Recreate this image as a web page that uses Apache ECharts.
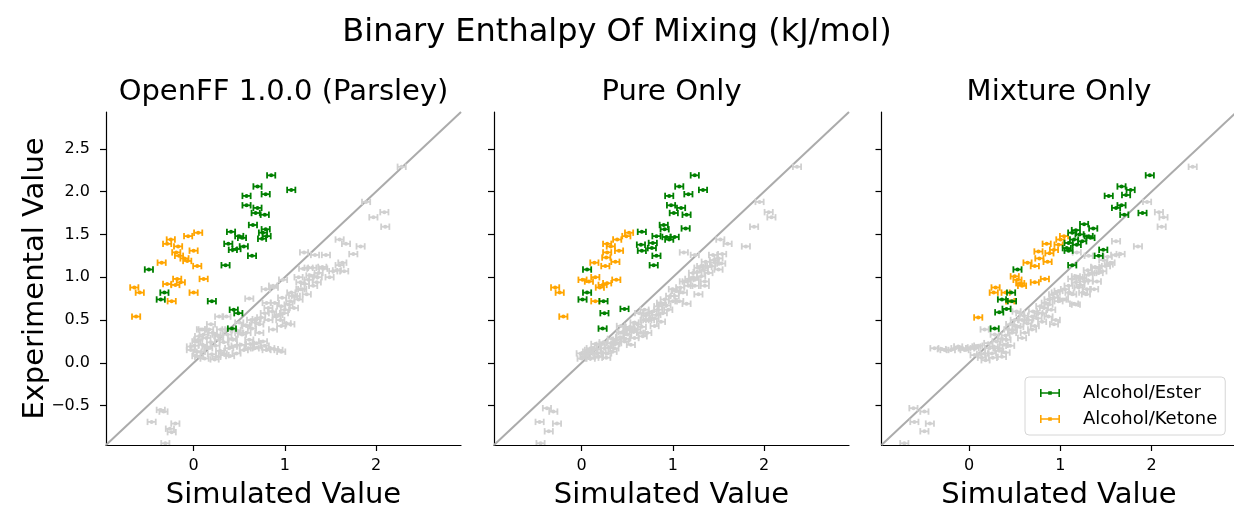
<!DOCTYPE html>
<html>
<head>
<meta charset="utf-8">
<script src="https://cdn.jsdelivr.net/npm/echarts@6/dist/echarts.min.js"></script>
<style>
  html, body { margin: 0; padding: 0; background: #ffffff; }
  #chart { width: 1234px; height: 508px; }
</style>
</head>
<body>
<div id="chart"></div>
<script>
// Binary enthalpy of mixing: simulated vs experimental (kJ/mol), three force fields.
const panelTitles = ['OpenFF 1.0.0 (Parsley)', 'Pure Only', 'Mixture Only'];
const xTicks = [0, 1, 2];
const yTicks = [-0.5, 0, 0.5, 1, 1.5, 2, 2.5];
const axisLimits = [-0.96, 2.93];
const xErr = 0.045; // uncertainty on simulated values

// [simulated, experimental]
const parsleyEster = [
  [0.85, 2.19], [0.70, 2.06], [1.07, 2.02], [0.58, 1.95], [0.79, 1.97], [0.58, 1.84],
  [0.70, 1.81], [0.68, 1.75], [0.78, 1.73], [0.65, 1.61], [0.79, 1.56], [0.76, 1.52],
  [0.75, 1.45], [0.80, 1.48], [0.41, 1.53], [0.50, 1.48], [0.53, 1.46], [0.38, 1.39],
  [0.43, 1.32], [0.55, 1.36], [0.47, 1.33], [0.64, 1.25], [0.35, 1.14], [-0.49, 1.09],
  [-0.32, 0.82], [-0.36, 0.74], [0.20, 0.72], [0.44, 0.62], [0.49, 0.58], [0.42, 0.40]
];
const parsleyKetone = [
  [0.05, 1.52], [-0.06, 1.48], [-0.25, 1.44], [-0.29, 1.39], [-0.17, 1.36], [0.00, 1.31],
  [-0.19, 1.29], [-0.16, 1.25], [-0.10, 1.22], [-0.07, 1.19], [-0.35, 1.17], [0.04, 1.13],
  [0.11, 0.98], [-0.18, 0.98], [-0.14, 0.94], [-0.20, 0.91], [-0.29, 0.92], [0.00, 0.82],
  [-0.65, 0.88], [-0.59, 0.82], [-0.24, 0.72], [-0.63, 0.54]
];
const parsleyOther = [
  [2.28, 2.29], [1.89, 1.88], [2.09, 1.76], [1.97, 1.70], [2.10, 1.59], [1.60, 1.44],
  [1.67, 1.39], [1.83, 1.36], [1.75, 1.27], [1.21, 1.29], [1.33, 1.26], [1.45, 1.26],
  [1.30, 1.11], [1.42, 1.10], [1.60, 1.14], [1.57, 1.08], [1.65, 1.07], [1.49, 1.00],
  [1.31, 1.01], [1.35, 0.94], [1.31, 0.90], [0.98, 0.97], [1.17, 0.86], [1.24, 0.80],
  [1.09, 0.78], [1.06, 0.72], [0.89, 0.70], [0.79, 0.86], [0.88, 0.88], [0.61, 0.75],
  [0.99, 0.58], [0.91, 0.54], [1.02, 0.46], [0.96, 0.43], [0.78, 0.58], [0.69, 0.51],
  [0.72, 0.45], [0.36, 0.54], [0.19, 0.45], [0.10, 0.39], [0.06, 0.31], [0.01, 0.20],
  [0.04, 0.13], [0.14, 0.19], [0.25, 0.07], [0.34, 0.09], [0.43, 0.27], [0.50, 0.35],
  [0.60, 0.17], [0.76, 0.25], [0.80, 0.15], [0.93, 0.15], [0.69, 0.23], [0.28, 0.27],
  [0.21, 0.35], [0.36, 0.39], [0.50, 0.47], [0.58, 0.43], [0.63, 0.50], [0.43, 0.19],
  [0.14, 0.29], [-0.03, 0.19], [0.03, 0.25], [0.08, 0.39], [0.17, 0.39], [0.25, 0.33],
  [0.30, 0.39], [0.06, 0.07], [0.23, 0.04], [0.32, 0.11], [0.39, 0.17], [0.47, 0.11],
  [0.52, 0.21], [0.61, 0.27], [0.67, 0.17], [0.84, 0.17], [0.96, 0.13], [0.87, 0.39],
  [0.95, 0.50], [1.06, 0.45], [0.82, 0.64], [0.96, 0.66], [1.15, 0.74], [1.07, 0.82],
  [1.17, 0.94], [1.26, 0.97], [1.37, 1.05], [1.53, 1.07], [1.63, 1.17], [1.26, 1.11],
  [0.28, 0.54], [0.10, 0.21], [0.58, 0.35], [0.72, 0.35], [0.87, 0.90], [0.80, 0.70],
  [-0.03, 0.15], [0.03, 0.08], [0.08, 0.13], [0.12, 0.05], [0.16, 0.17], [0.20, 0.10],
  [0.24, 0.20], [0.29, 0.14], [0.33, 0.24], [0.05, 0.27], [0.11, 0.33], [0.19, 0.24],
  [0.27, 0.31], [0.37, 0.33], [0.42, 0.28], [0.47, 0.38], [0.53, 0.33], [0.57, 0.44],
  [0.64, 0.40], [0.68, 0.47], [0.74, 0.53], [0.82, 0.50], [0.86, 0.60], [0.93, 0.56],
  [1.00, 0.62], [1.04, 0.68], [1.10, 0.64], [0.97, 0.76], [1.12, 0.78], [1.19, 0.86],
  [1.22, 0.92], [1.15, 1.00], [1.28, 1.02], [1.36, 1.00], [1.41, 1.12], [1.20, 1.10],
  [0.62, 0.22], [0.70, 0.18], [0.78, 0.20], [0.88, 0.16], [0.55, 0.15], [0.40, 0.08],
  [0.46, 0.20],
  [-0.36, -0.55], [-0.33, -0.57], [-0.46, -0.69], [-0.20, -0.71], [-0.26, -0.77],
  [-0.24, -0.81], [-0.31, -0.94]
];

const pureEster = [
  [1.24, 2.19], [1.07, 2.06], [1.33, 2.02], [0.96, 1.95], [1.17, 1.97], [0.98, 1.84],
  [1.09, 1.81], [1.01, 1.75], [1.15, 1.73], [0.90, 1.61], [1.14, 1.57], [0.91, 1.56],
  [0.66, 1.53], [0.82, 1.48], [0.93, 1.47], [1.02, 1.47], [0.96, 1.44], [0.65, 1.38],
  [0.78, 1.40], [0.77, 1.34], [0.66, 1.31], [0.82, 1.25], [0.79, 1.14], [0.06, 1.09],
  [0.06, 0.82], [0.01, 0.74], [0.24, 0.72], [0.47, 0.63], [0.25, 0.58], [0.23, 0.40]
];
const pureKetone = [
  [0.52, 1.52], [0.49, 1.48], [0.39, 1.44], [0.28, 1.39], [0.32, 1.36], [0.41, 1.31],
  [0.28, 1.29], [0.27, 1.23], [0.37, 1.18], [0.26, 1.13], [0.14, 1.17], [0.01, 0.97],
  [0.08, 0.95], [0.15, 1.00], [0.23, 0.91], [0.28, 0.93], [0.38, 0.97], [0.20, 0.88],
  [-0.29, 0.88], [-0.24, 0.82], [0.15, 0.72], [-0.20, 0.54]
];
const pureOther = [
  [2.36, 2.29], [1.95, 1.88], [2.05, 1.76], [2.08, 1.70], [1.89, 1.59], [1.52, 1.44],
  [1.60, 1.39], [1.80, 1.36], [1.12, 1.29], [1.24, 1.26], [1.44, 1.26], [1.54, 1.27],
  [1.53, 1.16], [1.50, 1.09], [1.28, 1.11], [1.39, 1.05], [1.24, 0.97], [1.35, 0.90],
  [1.28, 0.80], [1.15, 0.95], [1.04, 0.84], [1.11, 0.82], [1.15, 0.69], [1.00, 0.72],
  [0.87, 0.70], [0.95, 0.62], [0.82, 0.56], [0.72, 0.58], [0.69, 0.50], [0.80, 0.43],
  [0.87, 0.48], [0.58, 0.47], [0.50, 0.39], [0.43, 0.35], [0.54, 0.21], [0.58, 0.29],
  [0.39, 0.27], [0.32, 0.23], [0.25, 0.17], [0.17, 0.11], [0.06, 0.13], [0.03, 0.07],
  [0.14, 0.06], [0.28, 0.11], [0.21, 0.21], [0.36, 0.17], [0.47, 0.25], [0.63, 0.58],
  [0.69, 0.62], [1.00, 0.86], [-0.01, 0.11], [0.10, 0.17], [0.19, 0.07], [0.27, 0.06],
  [0.34, 0.13], [0.39, 0.23], [0.50, 0.33], [0.60, 0.39], [0.65, 0.35], [0.72, 0.50],
  [0.80, 0.52], [0.89, 0.58], [0.91, 0.74], [1.02, 0.78], [1.07, 0.72], [1.17, 0.90],
  [1.22, 1.05], [1.31, 1.01], [1.42, 1.13], [1.46, 1.17], [1.31, 1.13], [1.35, 0.95],
  [1.24, 0.90], [0.84, 0.66], [0.54, 0.39], [0.43, 0.43], [0.72, 0.35], [0.67, 0.31],
  [0.00, 0.05], [0.05, 0.10], [0.10, 0.05], [0.12, 0.12], [0.17, 0.16], [0.22, 0.12],
  [0.24, 0.24], [0.30, 0.18], [0.33, 0.28], [0.37, 0.22], [0.42, 0.30], [0.45, 0.36],
  [0.48, 0.28], [0.53, 0.42], [0.57, 0.36], [0.61, 0.45], [0.66, 0.42], [0.70, 0.55],
  [0.75, 0.50], [0.78, 0.60], [0.84, 0.62], [0.88, 0.68], [0.93, 0.67], [0.97, 0.78],
  [1.03, 0.84], [1.08, 0.88], [1.12, 0.95], [1.18, 0.98], [1.22, 1.00], [1.27, 1.06],
  [1.34, 1.08], [1.38, 1.12], [1.45, 1.20], [1.50, 1.22], [1.36, 1.18], [0.15, 0.22],
  [0.08, 0.15],
  [-0.38, -0.53], [-0.31, -0.57], [-0.46, -0.69], [-0.27, -0.71], [-0.36, -0.80],
  [-0.45, -0.94]
];

const mixtureEster = [
  [1.98, 2.19], [1.67, 2.06], [1.77, 2.02], [1.72, 1.96], [1.53, 1.95], [1.61, 1.81],
  [1.67, 1.84], [1.70, 1.73], [1.90, 1.75], [1.26, 1.62], [1.36, 1.57], [1.17, 1.55],
  [1.13, 1.52], [1.21, 1.50], [1.31, 1.48], [1.15, 1.44], [1.24, 1.42], [1.33, 1.46],
  [1.09, 1.40], [1.07, 1.34], [1.18, 1.38], [1.09, 1.31], [1.47, 1.32], [1.42, 1.25],
  [1.13, 1.14], [0.53, 1.09], [0.46, 0.82], [0.36, 0.74], [0.47, 0.72], [0.41, 0.63],
  [0.33, 0.59], [0.28, 0.40]
];
const mixtureKetone = [
  [1.04, 1.48], [1.00, 1.44], [0.98, 1.38], [0.85, 1.39], [0.76, 1.30], [0.88, 1.28],
  [0.93, 1.32], [0.77, 1.22], [0.86, 1.18], [0.64, 1.17], [0.72, 1.13], [0.50, 1.01],
  [0.53, 0.97], [0.56, 0.93], [0.58, 0.90], [0.72, 0.94], [0.83, 0.98], [0.29, 0.88],
  [0.27, 0.82], [0.40, 0.82], [0.45, 0.72], [0.10, 0.53]
];
const mixtureOther = [
  [2.45, 2.29], [1.95, 1.88], [2.08, 1.76], [2.13, 1.70], [2.11, 1.59], [1.61, 1.42],
  [1.66, 1.27], [1.85, 1.36], [1.18, 1.29], [1.31, 1.25], [1.53, 1.15], [1.46, 1.07],
  [1.35, 1.05], [1.24, 0.99], [1.17, 0.94], [1.31, 0.96], [1.20, 0.88], [1.29, 0.86],
  [1.13, 0.80], [1.28, 0.80], [0.98, 0.84], [0.93, 0.76], [1.04, 0.74], [1.15, 0.69],
  [0.87, 0.68], [0.76, 0.58], [0.87, 0.54], [0.93, 0.45], [0.80, 0.48], [0.65, 0.50],
  [0.72, 0.43], [0.58, 0.50], [0.52, 0.43], [0.61, 0.35], [0.47, 0.35], [0.41, 0.27],
  [0.58, 0.29], [0.52, 0.60], [0.17, 0.39], [0.28, 0.33], [0.21, 0.23], [0.32, 0.17],
  [0.25, 0.11], [0.06, 0.09], [0.14, 0.06], [0.01, 0.17], [-0.07, 0.17], [-0.20, 0.15],
  [-0.38, 0.17], [-0.27, 0.15], [-0.12, 0.19], [0.08, 0.19], [0.36, 0.07], [0.06, 0.17],
  [0.17, 0.11], [0.27, 0.19], [0.38, 0.21], [0.43, 0.39], [0.50, 0.50], [0.69, 0.54],
  [0.80, 0.58], [0.95, 0.50], [1.02, 0.74], [1.09, 0.90], [1.17, 1.01], [1.39, 1.11],
  [1.50, 1.13], [1.55, 1.17], [1.31, 1.03], [1.22, 0.91], [1.37, 0.86], [1.17, 0.68],
  [0.95, 0.82], [0.69, 0.39], [0.87, 0.74], [0.82, 0.64], [0.56, 0.58],
  [-0.30, 0.16], [-0.15, 0.17], [-0.05, 0.15], [0.03, 0.18], [0.10, 0.20], [0.13, 0.10],
  [0.18, 0.03], [0.22, 0.17], [0.26, 0.06], [0.30, 0.25], [0.33, 0.14], [0.36, 0.28],
  [0.40, 0.32], [0.45, 0.45], [0.48, 0.38], [0.55, 0.42], [0.60, 0.55], [0.64, 0.46],
  [0.70, 0.60], [0.75, 0.52], [0.78, 0.66], [0.84, 0.70], [0.90, 0.62], [0.92, 0.80],
  [0.98, 0.72], [1.05, 0.86], [1.10, 0.82], [1.13, 0.98], [1.20, 1.00], [1.26, 0.95],
  [1.30, 1.08], [1.38, 1.12], [1.42, 1.05], [1.47, 1.20], [1.52, 1.24], [1.60, 1.26],
  [1.40, 0.95], [1.25, 0.82], [0.45, 0.20], [0.40, 0.12],
  [-0.61, -0.53], [-0.49, -0.57], [-0.60, -0.69], [-0.43, -0.71], [-0.49, -0.80],
  [-0.71, -0.94]
];

const panels = [
  { ester: parsleyEster, ketone: parsleyKetone, other: parsleyOther },
  { ester: pureEster, ketone: pureKetone, other: pureOther },
  { ester: mixtureEster, ketone: mixtureKetone, other: mixtureOther }
];

const FONT = 'DejaVu Sans';
const GREEN = '#008000';
const ORANGE = '#ffa500';
const GREY = '#d0d0d0';
const gridLefts = [106, 494, 881.5];
const gridTop = 112, gridW = 355, gridH = 333;

// Horizontal error bar with end caps and a small centre dot.
function errorBar(color) {
  return function (params, api) {
    const x = api.value(0), y = api.value(1);
    const c = api.coord([x, y]);
    const l = api.coord([x - xErr, y]);
    const r = api.coord([x + xErr, y]);
    const cap = 3.2;
    const st = { stroke: color, lineWidth: 1.8 };
    return {
      type: 'group',
      children: [
        { type: 'line', shape: { x1: l[0], y1: c[1], x2: r[0], y2: c[1] }, style: st },
        { type: 'line', shape: { x1: l[0], y1: c[1] - cap, x2: l[0], y2: c[1] + cap }, style: st },
        { type: 'line', shape: { x1: r[0], y1: c[1] - cap, x2: r[0], y2: c[1] + cap }, style: st },
        { type: 'circle', shape: { cx: c[0], cy: c[1], r: 2 }, style: { fill: color } }
      ]
    };
  };
}

const fmt = v => (v < 0 ? '\u2212' + Math.abs(v).toFixed(1) : v.toFixed(1));

const grids = [], xAxes = [], yAxes = [], series = [];
panels.forEach((p, i) => {
  grids.push({
    left: gridLefts[i], top: gridTop, width: gridW, height: gridH,
    containLabel: false, outerBoundsMode: 'none'
  });
  xAxes.push({
    type: 'value', gridIndex: i, min: axisLimits[0], max: axisLimits[1],
    name: 'Simulated Value', nameLocation: 'middle', nameGap: 36,
    nameTextStyle: { fontSize: 29, color: '#000', fontFamily: FONT },
    axisLine: { show: true, onZero: false, lineStyle: { color: '#000', width: 1.2 } },
    axisTick: { show: true, length: 6, customValues: xTicks, lineStyle: { color: '#000', width: 1.2 } },
    axisLabel: { customValues: xTicks, fontSize: 16, color: '#000', margin: 13, fontFamily: FONT, formatter: v => String(v) },
    splitLine: { show: false }
  });
  yAxes.push({
    type: 'value', gridIndex: i, min: axisLimits[0], max: axisLimits[1],
    axisLine: { show: true, onZero: false, lineStyle: { color: '#000', width: 1.2 } },
    axisTick: { show: true, length: 6, customValues: yTicks, lineStyle: { color: '#000', width: 1.2 } },
    axisLabel: { show: i === 0, customValues: yTicks, fontSize: 16, color: '#000', margin: 16, fontFamily: FONT, formatter: fmt },
    splitLine: { show: false }
  });
  series.push({
    type: 'line', xAxisIndex: i, yAxisIndex: i, silent: true, showSymbol: false, z: 1,
    data: [[axisLimits[0], axisLimits[0]], [axisLimits[1], axisLimits[1]]],
    lineStyle: { color: '#ababab', width: 2 }
  });
  series.push({
    type: 'custom', name: 'Other', xAxisIndex: i, yAxisIndex: i, clip: true, z: 2,
    itemStyle: { color: GREY }, data: p.other, renderItem: errorBar(GREY), encode: { x: 0, y: 1 }
  });
  series.push({
    type: 'custom', name: 'Alcohol/Ketone', xAxisIndex: i, yAxisIndex: i, clip: true, z: 3,
    itemStyle: { color: ORANGE }, data: p.ketone, renderItem: errorBar(ORANGE), encode: { x: 0, y: 1 }
  });
  series.push({
    type: 'custom', name: 'Alcohol/Ester', xAxisIndex: i, yAxisIndex: i, clip: true, z: 4,
    itemStyle: { color: GREEN }, data: p.ester, renderItem: errorBar(GREEN), encode: { x: 0, y: 1 }
  });
});

const barIcon = 'path://M0,0H1.6V8H0Z M18.4,0H20V8H18.4Z M0,3.2H20V4.8H0Z M8.2,2.2H11.8V5.8H8.2Z';

const textEl = (text, x, y, size, rot) => ({
  type: 'text', x: x, y: y, rotation: rot || 0, silent: true,
  style: {
    text: text, fontSize: size, fontFamily: FONT, fill: '#000',
    align: 'center', verticalAlign: 'middle', textAlign: 'center', textVerticalAlign: 'middle'
  }
});

const chart = echarts.init(document.getElementById('chart'), null, { renderer: 'canvas' });
chart.setOption({
  backgroundColor: '#ffffff',
  animation: false,
  grid: grids,
  xAxis: xAxes,
  yAxis: yAxes,
  series: series,
  legend: {
    orient: 'vertical', left: 1025, top: 377,
    data: [{ name: 'Alcohol/Ester', icon: barIcon }, { name: 'Alcohol/Ketone', icon: barIcon }],
    itemWidth: 20, itemHeight: 8, itemGap: 8,
    padding: [7, 8, 7, 15],
    borderColor: '#d6d6d6', borderWidth: 1, borderRadius: 4,
    backgroundColor: 'rgba(255,255,255,0.8)',
    textStyle: { fontSize: 18, color: '#000', fontFamily: FONT, padding: [0, 0, 0, 18] },
    selectedMode: false
  },
  graphic: [
    textEl('Binary Enthalpy Of Mixing (kJ/mol)', 617, 33, 32),
    textEl(panelTitles[0], gridLefts[0] + gridW / 2, 92, 29),
    textEl(panelTitles[1], gridLefts[1] + gridW / 2, 92, 29),
    textEl(panelTitles[2], gridLefts[2] + gridW / 2, 92, 29),
    textEl('Experimental Value', 35, gridTop + gridH / 2, 29, Math.PI / 2)
  ]
});
</script>
</body>
</html>
